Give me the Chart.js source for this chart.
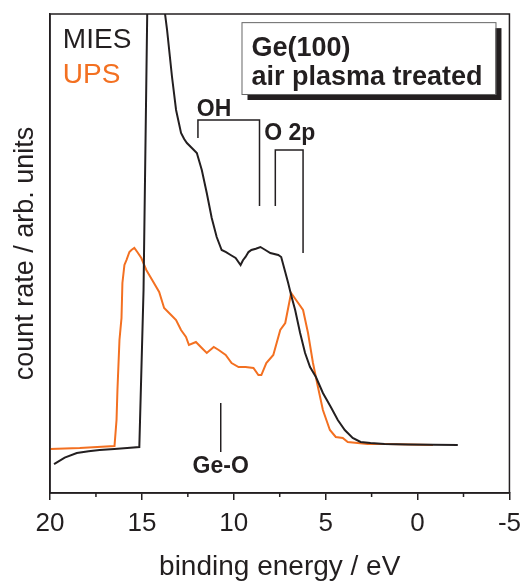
<!DOCTYPE html>
<html>
<head>
<meta charset="utf-8">
<script src="https://cdn.jsdelivr.net/npm/chart.js@4"></script>
<style>
  html, body { margin: 0; padding: 0; background: #fff; }
  #wrap { width: 529px; height: 584px; }
</style>
</head>
<body>
<div id="wrap"><canvas id="chart" width="529" height="584"></canvas></div>
<script>
// MIES spectrum (black)
const miesEnergy = [19.78, 19.2, 18.54, 17.9, 17.30, 16.5, 15.8, 15.14, 14.91, 14.71, 14.62, 14.2, 13.85, 13.74,
  13.63, 13.36, 13.14, 12.87, 12.70, 12.55, 12.28, 12.01, 11.74, 11.47, 11.20, 10.93, 10.66, 10.42, 10.17,
  9.90, 9.63, 9.50, 9.36, 9.20, 9.04, 8.80, 8.55, 8.28, 8.01, 7.58, 7.42, 7.20, 7.04, 6.88, 6.66, 6.39,
  6.12, 5.85, 5.53, 5.15, 4.72, 4.34, 3.96, 3.53, 3.10, 2.56, 1.80, 0.5, -2.19];
const miesCount = [6.05, 7.4, 8.35, 8.7, 8.98, 9.2, 9.4, 9.6, 42.4, 100, 118, 130, 110, 100,
  96.66, 86.85, 79.96, 75.16, 73.9, 73.07, 72.03, 70.98, 67.43, 62.63, 57.41, 53.44, 50.73, 50.3, 49.69,
  49.06, 47.60, 48.6, 49.27, 50.3, 50.73, 51.0, 51.36, 50.73, 50.10, 49.69, 49.27, 46.14, 43.84, 41.34, 38.20, 33.40,
  29.23, 26.30, 24.22, 20.88, 17.95, 15.24, 13.15, 11.48, 10.65, 10.44, 10.23, 10.1, 10.02];

// UPS spectrum (orange)
const upsEnergy = [20.0, 18.38, 16.49, 16.38, 16.33, 16.22, 16.11, 16.06, 15.95, 15.84, 15.68, 15.57, 15.41,
  15.25, 15.03, 14.76, 14.44, 14.06, 13.79, 13.41, 13.14, 12.87, 12.60, 12.44, 12.06, 11.74, 11.47, 11.09,
  10.82, 10.44, 10.12, 9.74, 9.36, 8.93, 8.66, 8.50, 8.23, 7.85, 7.47, 7.20, 6.88, 6.61, 6.23, 5.96, 5.69,
  5.42, 5.15, 4.77, 4.45, 4.07, 3.80, 3.26, 2.72, 1.64, -0.84];
const upsCount = [9.19, 9.39, 9.81, 15.24, 21.50, 31.94, 36.5, 43.84, 47.6, 48.64, 50.31, 50.73, 51.15,
  50.31, 49.06, 46.56, 44.47, 41.96, 38.62, 37.16, 36.12, 34.03, 32.57, 30.90, 31.52, 30.27, 29.23, 30.48,
  29.85, 28.81, 27.14, 26.30, 26.30, 26.10, 24.63, 24.63, 27.14, 28.81, 34.03, 35.49, 41.75, 40.29, 38.20, 33.40, 27.14,
  22.13, 17.33, 13.15, 11.69, 11.48, 10.65, 10.44, 10.23, 10.23, 10.02];

const xTicks = [20, 15, 10, 5, 0, -5];
const xMinorTicks = [17.5, 12.5, 7.5, 2.5, -2.5];

// peak assignments: [label, left eV, right eV, top, left leg end, right leg end]
const brackets = [
  ["OH", 11.95, 8.6, 77.87, 74.11, 59.92],
  ["O 2p", 7.74, 6.23, 71.61, 59.92, 50.10]
];
const geO = { label: "Ge-O", energy: 10.71, top: 18.79, bottom: 8.56, textY: 4.18 };

const ink = "#231f20";
const orange = "#f37021";
const fontFam = "'Liberation Sans', Arial, Helvetica, sans-serif";

function toPoints(xs, ys) {
  return xs.map((x, i) => ({ x: x, y: ys[i] }));
}

const annotations = {
  id: "annotations",
  afterDatasetsDraw(chart) {
    const ctx = chart.ctx;
    const xs = chart.scales.x, ys = chart.scales.y;
    const area = chart.chartArea;
    ctx.save();

    // frame
    ctx.strokeStyle = ink;
    ctx.lineWidth = 1.5;
    ctx.strokeRect(area.left, area.top, area.right - area.left, area.bottom - area.top);

    // minor ticks
    ctx.beginPath();
    xMinorTicks.forEach(v => {
      const px = xs.getPixelForValue(v);
      ctx.moveTo(px, area.bottom);
      ctx.lineTo(px, area.bottom + 4);
    });
    ctx.stroke();

    // legend text
    ctx.font = "28px " + fontFam;
    ctx.textBaseline = "alphabetic";
    ctx.textAlign = "left";
    ctx.fillStyle = ink;
    ctx.fillText("MIES", xs.getPixelForValue(19.3), ys.getPixelForValue(92.9));
    ctx.fillStyle = orange;
    ctx.fillText("UPS", xs.getPixelForValue(19.3), ys.getPixelForValue(85.6));

    // sample box with shadow
    const bl = xs.getPixelForValue(9.58), br = xs.getPixelForValue(-4.24);
    const bt = ys.getPixelForValue(98.3), bb = ys.getPixelForValue(83.3);
    ctx.fillStyle = ink;
    ctx.fillRect(bl + 6, bt + 6, br - bl, bb - bt);
    ctx.fillStyle = "#fff";
    ctx.fillRect(bl, bt, br - bl, bb - bt);
    ctx.strokeStyle = "#666";
    ctx.lineWidth = 1;
    ctx.strokeRect(bl + 0.5, bt + 0.5, br - bl, bb - bt);
    ctx.fillStyle = ink;
    ctx.font = "bold 27px " + fontFam;
    ctx.fillText("Ge(100)", bl + 10, bt + 34);
    ctx.fillText("air plasma treated", bl + 10, bt + 63);

    // brackets
    ctx.strokeStyle = ink;
    ctx.lineWidth = 1.5;
    ctx.font = "bold 23px " + fontFam;
    brackets.forEach(b => {
      const x1 = xs.getPixelForValue(b[1]), x2 = xs.getPixelForValue(b[2]);
      const yt = ys.getPixelForValue(b[3]);
      ctx.beginPath();
      ctx.moveTo(x1, ys.getPixelForValue(b[4]));
      ctx.lineTo(x1, yt);
      ctx.lineTo(x2, yt);
      ctx.lineTo(x2, ys.getPixelForValue(b[5]));
      ctx.stroke();
    });
    ctx.fillText("OH", xs.getPixelForValue(12.01), ys.getPixelForValue(78.7));
    ctx.fillText("O 2p", xs.getPixelForValue(8.34), ys.getPixelForValue(73.7));

    // Ge-O marker
    const gx = xs.getPixelForValue(geO.energy);
    ctx.beginPath();
    ctx.moveTo(gx, ys.getPixelForValue(geO.top));
    ctx.lineTo(gx, ys.getPixelForValue(geO.bottom));
    ctx.stroke();
    ctx.textAlign = "center";
    ctx.fillText(geO.label, gx, ys.getPixelForValue(geO.textY));

    ctx.restore();
  }
};

const chart = new Chart(document.getElementById("chart"), {
  type: "line",
  data: {
    datasets: [
      {
        label: "MIES",
        data: toPoints(miesEnergy, miesCount),
        borderColor: ink,
        borderWidth: 2,
        pointRadius: 0,
        tension: 0
      },
      {
        label: "UPS",
        data: toPoints(upsEnergy, upsCount),
        borderColor: orange,
        borderWidth: 2,
        pointRadius: 0,
        tension: 0
      }
    ]
  },
  options: {
    responsive: false,
    animation: false,
    layout: { padding: { top: 14, right: 16, left: 0, bottom: 0 } },
    plugins: {
      legend: { display: false },
      tooltip: { enabled: false }
    },
    scales: {
      x: {
        type: "linear",
        reverse: true,
        min: -5,
        max: 20,
        afterBuildTicks: scale => { scale.ticks = xTicks.map(v => ({ value: v })); },
        afterFit: scale => { scale.height = 91; },
        ticks: {
          color: ink,
          padding: 8,
          maxRotation: 0,
          font: { family: fontFam, size: 26 }
        },
        grid: { display: true, drawOnChartArea: false, drawTicks: true, tickLength: 7, color: ink, lineWidth: 1.5 },
        border: { display: true, color: ink, width: 1.5 },
        title: {
          display: true,
          text: "binding energy / eV",
          color: ink,
          padding: { top: 0, bottom: 0 },
          font: { family: fontFam, size: 28 }
        }
      },
      y: {
        min: 0,
        max: 100,
        afterFit: scale => { scale.width = 50; },
        ticks: { display: false },
        grid: { display: false },
        border: { display: true, color: ink, width: 1.5 },
        title: {
          display: true,
          text: "count rate / arb. units",
          color: ink,
          padding: { top: 9, bottom: 0 },
          font: { family: fontFam, size: 27 }
        }
      }
    }
  },
  plugins: [annotations]
});
</script>
</body>
</html>
